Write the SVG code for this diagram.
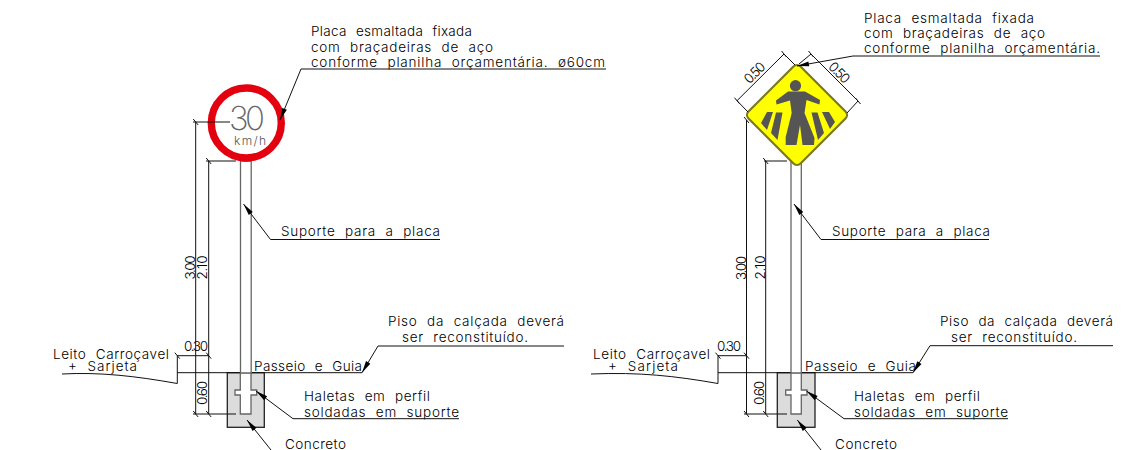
<svg xmlns="http://www.w3.org/2000/svg" width="1126" height="450" viewBox="0 0 1126 450">
<style>
text{font-family:Inter,"Liberation Sans",Arial,sans-serif;font-size:13.500px;font-weight:300;fill:#000;word-spacing:5px}
.d{font-size:13.500px;word-spacing:0}
.l{fill:none;stroke:#111;stroke-width:1}
.dim{fill:none;stroke:#111;stroke-width:1;marker-start:url(#t);marker-end:url(#t)}
.lead{fill:none;stroke:#111;stroke-width:1;marker-start:url(#a)}
.c{fill:#dcdcdc;stroke:#222;stroke-width:1.300}
.p{fill:#fff;stroke:#666;stroke-width:1.300}
.k{fill:#555}
</style>
<defs>
<marker id="t" markerUnits="userSpaceOnUse" markerWidth="10" markerHeight="10" refX="5" refY="5" orient="0"><path d="M2.500,2 L7.500,8" stroke="#111" stroke-width="1" fill="none"/></marker>
<marker id="a" markerUnits="userSpaceOnUse" markerWidth="13" markerHeight="8" refX="0" refY="4" orient="auto"><path d="M0,4 L12,1.500 V6.500 Z" fill="#000"/></marker>
</defs>
<g id="left-road"><path class="l" d="M62,374 C100,372 135,376 177.300,383.500 V355.700"/></g>
<g id="left-foundation">
<rect class="c" x="227.300" y="372.700" width="37" height="54.600"/>
<path class="p" d="M240.300,372.700 V390 H235 V395 H240.300 V414 H251 V395 H256.700 V390 H251 V372.700 Z"/>
<path class="l" d="M177.300,372.700 H240.300 M251,372.700 H362"/>
</g>
<g id="left-pole"><path class="p" d="M240.500,161 V373 H251.200 V161 Z"/></g>
<g id="left-sign">
<circle cx="246.300" cy="123" r="35" fill="#fff" stroke="#e3000f" stroke-width="7.400"/>
<text x="229" y="130" textLength="36" style="font-size:33px;font-weight:200;fill:#666;word-spacing:0">30</text>
<text x="234" y="145" textLength="32" style="font-size:12px;fill:#555;word-spacing:0">km/h</text>
</g>
<g id="left-labels">
<text x="311" y="36" textLength="161">Placa esmaltada fixada</text>
<text x="311" y="51.500" textLength="182">com braçadeiras de aço</text>
<text x="311" y="67" textLength="294">conforme planilha orçamentária. ø60cm</text>
<text x="281" y="236" textLength="159">Suporte para a placa</text>
<text x="388" y="326" textLength="176">Piso da calçada deverá</text>
<text x="402" y="342" textLength="126">ser reconstituído.</text>
<text x="254" y="371" textLength="108">Passeio e Guia</text>
<text x="304" y="400.500" textLength="126">Haletas em perfil</text>
<text x="304" y="416.500" textLength="155">soldadas em suporte</text>
<text x="285" y="449" textLength="61">Concreto</text>
<text x="53" y="359" textLength="116">Leito Carroçavel</text>
<text x="68" y="371" textLength="69">+ Sarjeta</text>
</g>
<g id="right-road"><path class="l" d="M591,374 C640,372 675,376 718,383.500 V355.700"/></g>
<g id="right-foundation">
<rect class="c" x="777.300" y="372.700" width="37.700" height="54.600"/>
<path class="p" d="M791,372.700 V390 H785.700 V395 H791 V414 H801.300 V395 H807 V390 H801.300 V372.700 Z"/>
<path class="l" d="M718,372.700 H791 M801.300,372.700 H913"/>
</g>
<g id="right-pole"><path class="p" d="M791,161 V373 H801.300 V161 Z"/></g>
<g id="right-sign">
<rect x="-36.800" y="-36.800" width="73.600" height="73.600" rx="5" transform="translate(797 115) rotate(45)" fill="#ffff00" stroke="#7a7a20" stroke-width="2.200"/>
<circle class="k" cx="795.500" cy="85.700" r="5.600"/>
<path class="k" d="M788,91.500 H805 L820,100 L819.500,104.500 L806.500,100 L804.500,113 L814.500,138 L814,145 H802.500 L800,125 L796.500,145 H785.700 V137 L791.700,113 L790,100.500 L776.500,104.500 L776,100.500 Z"/>
<path class="k" d="M767,112 H773 L767,130 L761,123 Z M776,112.500 H782.500 L777.500,140 L771,133 Z M811.500,112.500 H817.500 L824,133 L818,140 Z M822,112 H829 L835,122 L830,129 Z"/>
</g>
<g id="right-labels">
<text x="864" y="22.700" textLength="170">Placa esmaltada fixada</text>
<text x="864" y="37.500" textLength="181">com braçadeiras de aço</text>
<text x="864" y="53" textLength="236">conforme planilha orçamentária.</text>
<text x="832" y="236" textLength="158">Suporte para a placa</text>
<text x="940" y="325.700" textLength="173">Piso da calçada deverá</text>
<text x="951" y="341.700" textLength="126">ser reconstituído.</text>
<text x="805" y="370.700" textLength="111">Passeio e Guia</text>
<text x="854" y="400.500" textLength="126">Haletas em perfil</text>
<text x="854" y="416.500" textLength="154">soldadas em suporte</text>
<text x="835" y="449" textLength="62">Concreto</text>
<text x="593" y="359" textLength="117">Leito Carroçavel</text>
<text x="608" y="371" textLength="70">+ Sarjeta</text>
</g>
<g id="left-dimensions">
<path class="dim" d="M195.700,122 V414"/>
<path class="dim" d="M208.700,161 V372.700 M208.700,372.700 V414"/>
<path class="l" d="M193,122 H230 M206,161 H236 M193,414 H236"/>
<path class="dim" d="M177.300,355.700 H208.700"/>
<text class="d" x="184" y="351" textLength="24">0.30</text>
<text class="d" transform="translate(206.700 393) rotate(-90)" text-anchor="middle" textLength="24">0.60</text>
<text class="d" transform="translate(195 267.500) rotate(-90)" text-anchor="middle" textLength="24">3.00</text>
<text class="d" transform="translate(206.700 267.500) rotate(-90)" text-anchor="middle" textLength="24">2.10</text>
</g>
<g id="right-dimensions">
<path class="dim" d="M746.500,120 V414"/>
<path class="dim" d="M765.700,161 V372.700 M765.700,372.700 V414"/>
<path class="l" d="M764,161 H787 M744,414 H787"/>
<path class="dim" d="M718,355.700 H746.500"/>
<path class="l" d="M748,112 L737,100.700 M795,65 L784,54 M799,64 L811,54 M847,113 L858,101"/>
<path class="dim" d="M737,100.700 L784,54"/>
<path class="dim" d="M811,54 L858,101"/>
<text class="d" x="717" y="351" textLength="24">0.30</text>
<text class="d" transform="translate(764 393) rotate(-90)" text-anchor="middle" textLength="24">0.60</text>
<text class="d" transform="translate(746 268) rotate(-90)" text-anchor="middle" textLength="24">3.00</text>
<text class="d" transform="translate(765 267.500) rotate(-90)" text-anchor="middle" textLength="24">2.10</text>
<text class="d" transform="translate(758 76) rotate(-45)" text-anchor="middle" textLength="24">0.50</text>
<text class="d" transform="translate(836 76) rotate(45)" text-anchor="middle" textLength="24">0.50</text>
</g>
<g id="connectors">
<path class="lead" d="M280,120 L301,69 H606"/>
<path class="lead" d="M243.500,204 L270.500,239.500 H440"/>
<path class="lead" d="M256,391 L293,418.700 H459"/>
<path class="lead" d="M247,420 L271,450"/>
<path class="lead" d="M362,372.700 L378,346 H564"/>
<path class="lead" d="M797,66 L853,56 H1100"/>
<path class="lead" d="M794,204 L821,239.500 H989"/>
<path class="lead" d="M806.500,391 L844,418.700 H1008"/>
<path class="lead" d="M797.300,420 L821,450"/>
<path class="lead" d="M913,372.700 L930,345.700 H1113"/>
</g>
</svg>
